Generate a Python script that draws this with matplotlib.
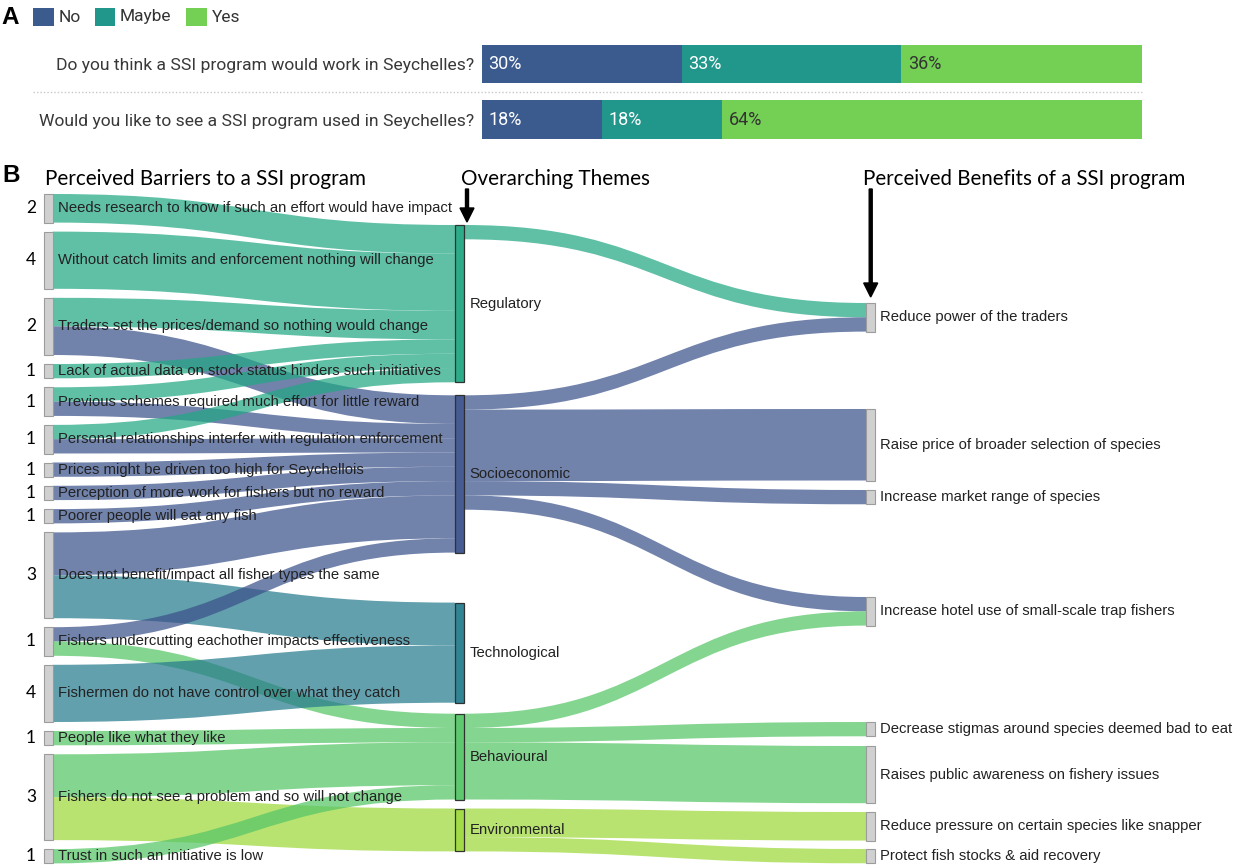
import matplotlib
matplotlib.use("Agg")
import matplotlib.pyplot as plt
from matplotlib.path import Path
from matplotlib.patches import PathPatch, Rectangle

# ---------------- DATA ----------------
# Panel A
answer_names = ["No", "Maybe", "Yes"]
questions = ["Do you think a SSI program would work in Seychelles?",
             "Would you like to see a SSI program used in Seychelles?"]
q1_pct = [30.3, 33.3, 36.4]
q2_pct = [18.2, 18.2, 63.6]

# Panel B (Sankey)
barriers = [
    "Needs research to know if such an effort would have impact",
    "Without catch limits and enforcement nothing will change",
    "Traders set the prices/demand so nothing would change",
    "Lack of actual data on stock status hinders such initiatives",
    "Previous schemes required much effort for little reward",
    "Personal relationships interfer with regulation enforcement",
    "Prices might be driven too high for Seychellois",
    "Perception of more work for fishers but no reward",
    "Poorer people will eat any fish",
    "Does not benefit/impact all fisher types the same",
    "Fishers undercutting eachother impacts effectiveness",
    "Fishermen do not have control over what they catch",
    "People like what they like",
    "Fishers do not see a problem and so will not change",
    "Trust in such an initiative is low",
]
barrier_counts = [2, 4, 2, 1, 1, 1, 1, 1, 1, 3, 1, 4, 1, 3, 1]
themes = ["Regulatory", "Socioeconomic", "Technological", "Behavioural", "Environmental"]
benefits = [
    "Reduce power of the traders",
    "Raise price of broader selection of species",
    "Increase market range of species",
    "Increase hotel use of small-scale trap fishers",
    "Decrease stigmas around species deemed bad to eat",
    "Raises public awareness on fishery issues",
    "Reduce pressure on certain species like snapper",
    "Protect fish stocks & aid recovery",
]
# (barrier index, theme index, value)
barrier_theme_links = [
    (0, 0, 2), (1, 0, 4), (2, 0, 2), (2, 1, 2), (3, 0, 1), (4, 0, 1), (4, 1, 1),
    (5, 0, 1), (5, 1, 1), (6, 1, 1), (7, 1, 1), (8, 1, 1), (9, 1, 3), (9, 2, 3),
    (10, 1, 1), (10, 3, 1), (11, 2, 4), (12, 3, 1), (13, 3, 3), (13, 4, 3), (14, 3, 1),
]
# (theme index, benefit index, value)
theme_benefit_links = [
    (0, 0, 1), (1, 0, 1), (1, 1, 5), (1, 2, 1), (1, 3, 1),
    (3, 3, 1), (3, 4, 1), (3, 5, 4), (4, 6, 2), (4, 7, 1),
]

# ---------------- STYLE / LAYOUT ----------------
answer_colors = ["#3b5a8e", "#21968a", "#74d055"]
answer_text_colors = ["white", "white", "#333333"]
theme_colors = ["#22a884", "#3b528b", "#277c8e", "#55c566", "#9dd93b"]
link_alpha = 0.72

W, H = 1235, 866
unit = 14.3                 # px per count
sankey_top = 194
left_gap = 9
mid_gaps = [31, 13, 50, 11, 9]
right_gaps = [109, 77.4, 9.5, 92.7, 96.4, 9.7, 8.8, 8.4]
xL0, xL1 = 44.3, 52.7
xM0, xM1 = 455.0, 464.0
xR0, xR1 = 866.0, 875.0

fig = plt.figure(figsize=(W / 100, H / 100), dpi=100)
ax = fig.add_axes([0, 0, 1, 1])
ax.set_xlim(0, W)
ax.set_ylim(H, 0)
ax.axis("off")
renderer = fig.canvas.get_renderer()


def fit_size(s, width_px, family, weight="normal"):
    t = ax.text(0, 0, s, fontsize=10, family=family, weight=weight)
    w = t.get_window_extent(renderer).width
    t.remove()
    return 10 * width_px / w


# ---------------- PANEL A ----------------
ax.text(10.5, 17.5, "A", fontsize=17.5, weight="bold", family="Liberation Sans",
        ha="center", va="center")
leg_x = [33, 94.5, 186]
leg_fs = fit_size("Maybe", 52, "Roboto")
for name, c, lx in zip(answer_names, answer_colors, leg_x):
    ax.add_patch(Rectangle((lx, 8), 20.5, 18, facecolor=c, edgecolor="none"))
    ax.text(lx + 25.5, 17, name, fontsize=leg_fs, family="Roboto", color="#333333",
            ha="left", va="center")

row_sp = 55.7
axA = fig.add_axes([481.7 / W, 1 - (64 + 1.35 * row_sp) / H, 660 / W, 1.7 * row_sp / H])
axA.set_xlim(0, 100)
axA.set_ylim(1.35, -0.35)
for row, vals in enumerate([q1_pct, q2_pct]):
    left = 0
    for k, v in enumerate(vals):
        axA.barh(row, v, left=left, height=0.7, color=answer_colors[k], edgecolor="none")
        axA.text(left + 1.0, row, f"{v:.0f}%", fontsize=13, family="Roboto",
                 color=answer_text_colors[k], ha="left", va="center")
        left += v
q_fs = fit_size(questions[0], 417, "Roboto")
axA.set_yticks([0, 1])
axA.set_yticklabels(questions, fontsize=q_fs, family="Roboto", color="#383838")
axA.tick_params(axis="y", length=0, pad=5.5)
axA.set_xticks([])
for sp in axA.spines.values():
    sp.set_visible(False)
axA.patch.set_alpha(0)
ax.plot([33, 1141.7], [92, 92], ls=(0, (1, 1.5)), color="#c8c8c8", lw=1)

# ---------------- PANEL B ----------------
ax.text(11, 176, "B", fontsize=17.5, weight="bold", family="Liberation Sans",
        ha="center", va="center")
title_specs = [("Perceived Barriers to a SSI program", 45, 322),
               ("Overarching Themes", 461, 188),
               ("Perceived Benefits of a SSI program", 863, 324)]
for s, x, w in title_specs:
    fs = fit_size(s, w, "Lato")
    ax.text(x, 179, s, fontsize=fs, family="Lato", ha="left", va="center", color="black")

ax.arrow(467, 189, 0, 33, width=3, head_width=14, head_length=14,
         length_includes_head=True, color="black", zorder=6)
ax.arrow(870.7, 189, 0, 108, width=3, head_width=14, head_length=14,
         length_includes_head=True, color="black", zorder=6)

nB, nT, nE = len(barriers), len(themes), len(benefits)
b_out = [sum(v for s, t, v in barrier_theme_links if s == i) for i in range(nB)]
t_in = [sum(v for s, t, v in barrier_theme_links if t == j) for j in range(nT)]
t_out = [sum(v for s, t, v in theme_benefit_links if s == j) for j in range(nT)]
t_h = [max(a, b) for a, b in zip(t_in, t_out)]
e_in = [sum(v for s, t, v in theme_benefit_links if t == k) for k in range(nE)]

b_top, y = [], sankey_top
for i in range(nB):
    b_top.append(y)
    y += b_out[i] * unit + left_gap
t_top, y = [], sankey_top
for j in range(nT):
    y += mid_gaps[j]
    t_top.append(y)
    y += t_h[j] * unit
e_top, y = [], sankey_top
for k in range(nE):
    y += right_gaps[k]
    e_top.append(y)
    y += e_in[k] * unit


def band(x0, y0, x1, y1, h, color):
    xm = (x0 + x1) / 2
    verts = [(x0, y0), (xm, y0), (xm, y1), (x1, y1), (x1, y1 + h),
             (xm, y1 + h), (xm, y0 + h), (x0, y0 + h), (x0, y0)]
    codes = [Path.MOVETO, Path.CURVE4, Path.CURVE4, Path.CURVE4, Path.LINETO,
             Path.CURVE4, Path.CURVE4, Path.CURVE4, Path.CLOSEPOLY]
    ax.add_patch(PathPatch(Path(verts, codes), facecolor=color, edgecolor="none",
                           alpha=link_alpha, zorder=1))


def draw_links(links, src_top, tgt_top, x0, x1, color_idx):
    src_off = list(src_top)
    tgt_off = list(tgt_top)
    y_src, y_tgt = {}, {}
    for s, t, v in sorted(links, key=lambda l: (l[0], l[1])):
        y_src[(s, t)] = src_off[s]
        src_off[s] += v * unit
    for s, t, v in sorted(links, key=lambda l: (l[1], l[0])):
        y_tgt[(s, t)] = tgt_off[t]
        tgt_off[t] += v * unit
    for s, t, v in links:
        band(x0, y_src[(s, t)], x1, y_tgt[(s, t)], v * unit,
             theme_colors[t if color_idx == "t" else s])


draw_links(barrier_theme_links, b_top, t_top, xL1, xM0, "t")
draw_links(theme_benefit_links, t_top, e_top, xM1, xR0, "s")

lab_fs = fit_size(barriers[0], 395, "Liberation Sans")
for i in range(nB):
    h = b_out[i] * unit
    ax.add_patch(Rectangle((xL0, b_top[i]), xL1 - xL0, h, facecolor="#d0d0d0",
                           edgecolor="#9c9c9c", lw=0.8, zorder=3))
    ax.text(xL1 + 5.5, b_top[i] + h / 2, barriers[i], fontsize=lab_fs,
            family="Liberation Sans", color="#222222", ha="left", va="center", zorder=5)
    ax.text(31, b_top[i] + h / 2, str(barrier_counts[i]), fontsize=12.5,
            family="Lato", color="black", ha="center", va="center", zorder=5)
for j in range(nT):
    h = t_h[j] * unit
    ax.add_patch(Rectangle((xM0, t_top[j]), xM1 - xM0, h, facecolor=theme_colors[j],
                           edgecolor="#2a2a2a", lw=0.9, alpha=0.95, zorder=3))
    ax.text(xM1 + 5.5, t_top[j] + h / 2, themes[j], fontsize=lab_fs,
            family="Liberation Sans", color="#222222", ha="left", va="center", zorder=5)
for k in range(nE):
    h = e_in[k] * unit
    ax.add_patch(Rectangle((xR0, e_top[k]), xR1 - xR0, h, facecolor="#d0d0d0",
                           edgecolor="#9c9c9c", lw=0.8, zorder=3))
    ax.text(xR1 + 5.5, e_top[k] + h / 2, benefits[k], fontsize=lab_fs,
            family="Liberation Sans", color="#222222", ha="left", va="center", zorder=5)

fig.savefig("out.png", dpi=100)
